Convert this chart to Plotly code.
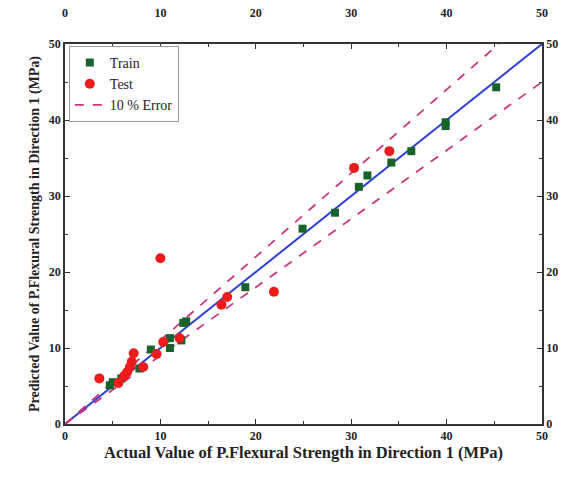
import plotly.graph_objects as go

train_actual = [45.2, 39.9, 39.9, 36.3, 34.2, 31.7, 30.8, 28.3, 24.9, 18.9, 12.7, 12.4, 12.2,
                11.0, 11.0, 9.0, 7.8, 5.9, 5.0, 4.7]
train_pred = [44.3, 39.7, 39.2, 35.9, 34.4, 32.7, 31.2, 27.8, 25.7, 18.0, 13.5, 13.3, 11.0,
              11.3, 10.0, 9.8, 7.3, 6.0, 5.5, 5.1]

test_actual = [3.6, 10.0, 21.9, 16.4, 17.0, 30.3, 34.0, 7.2, 7.0, 6.8, 6.5, 5.6, 8.2,
               9.6, 10.3, 12.0, 6.2]
test_pred = [6.0, 21.8, 17.4, 15.7, 16.7, 33.7, 35.9, 9.3, 8.2, 7.5, 6.8, 5.4, 7.5,
             9.2, 10.8, 11.3, 6.3]

ideal_x = [0, 50]
ideal_y = [0, 50]
upper_x = [0, 50 / 1.1]
upper_y = [0, 50]
lower_x = [0, 50]
lower_y = [0, 45]

font_family = "Liberation Serif"

fig = go.Figure()
fig.add_trace(go.Scatter(x=ideal_x, y=ideal_y, mode="lines",
                         line=dict(color="#2a3fd6", width=2), showlegend=False))
fig.add_trace(go.Scatter(x=upper_x, y=upper_y, mode="lines", name="10 % Error", legendrank=3,
                         line=dict(color="#c8367e", width=1.8, dash="dash")))
fig.add_trace(go.Scatter(x=lower_x, y=lower_y, mode="lines", showlegend=False,
                         line=dict(color="#c8367e", width=1.8, dash="dash")))
fig.add_trace(go.Scatter(x=train_actual, y=train_pred, mode="markers", name="Train", legendrank=1,
                         marker=dict(symbol="square", size=8, color="#17632a")))
fig.add_trace(go.Scatter(x=test_actual, y=test_pred, mode="markers", name="Test", legendrank=2,
                         marker=dict(symbol="circle", size=10, color="#ec1c1c")))
# invisible trace to activate mirrored labelled axes
fig.add_trace(go.Scatter(x=[0], y=[0], xaxis="x2", yaxis="y2", mode="markers",
                         marker=dict(opacity=0), showlegend=False, hoverinfo="skip"))

axis_common = dict(range=[0, 50], tickvals=[0, 10, 20, 30, 40, 50], ticks="inside",
                   ticklen=5, tickwidth=1.2, tickcolor="#333", showgrid=False,
                   zeroline=False, showline=True, linecolor="#333", linewidth=1.5,
                   minor=dict(ticks="inside", ticklen=3, dtick=5, tickcolor="#333"),
                   tickfont=dict(family=font_family, size=12, color="#222", weight="bold"))

fig.update_layout(
    width=571, height=477,
    margin=dict(l=65, r=29, t=44, b=53),
    plot_bgcolor="white", paper_bgcolor="white",
    font=dict(family=font_family, color="#222"),
    xaxis=dict(**axis_common,
               title=dict(text="<b>Actual Value of P.Flexural Strength in Direction 1 (MPa)</b>",
                          font=dict(family=font_family, size=16.5), standoff=2)),
    yaxis=dict(**axis_common,
               title=dict(text="<b>Predicted Value of P.Flexural Strength in Direction 1 (MPa)</b>",
                          font=dict(family=font_family, size=14), standoff=6)),
    xaxis2=dict(**axis_common, overlaying="x", side="top", ticklabelstandoff=20,
                automargin=False),
    yaxis2=dict(**axis_common, overlaying="y", side="right"),
    legend=dict(x=0.008, y=0.995, xanchor="left", yanchor="top",
                bgcolor="white", bordercolor="#999", borderwidth=1,
                font=dict(family=font_family, size=14), traceorder="normal",
                itemwidth=30),
)

fig.write_html("out.html")
